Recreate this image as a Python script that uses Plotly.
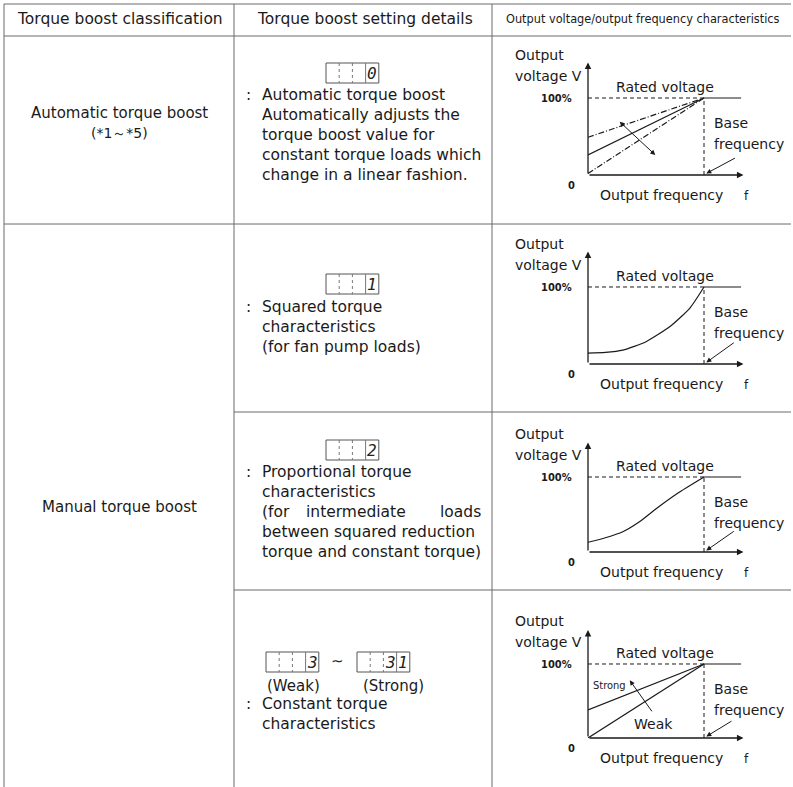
import plotly.graph_objects as go

W, H = 793, 787

# ---------------- data ----------------
HEADERS = ["Torque boost classification", "Torque boost setting details",
           "Output voltage/output frequency characteristics"]
CLASS_AUTO = ["Automatic torque boost", "(*1～*5)"]
CLASS_MANUAL = "Manual torque boost"

CODE_AUTO = ["", "", "", "0"]
CODE_SQUARED = ["", "", "", "1"]
CODE_PROP = ["", "", "", "2"]
CODE_WEAK = ["", "", "", "3"]
CODE_STRONG = ["", "", "3", "1"]

TEXT_AUTO = ["Automatic torque boost", "Automatically adjusts the", "torque boost value for",
             "constant torque loads which", "change in a linear fashion."]
TEXT_SQUARED = ["Squared torque", "characteristics", "(for fan pump loads)"]
TEXT_PROP = ["Proportional torque", "characteristics", None,
             "between squared reduction", "torque and constant torque)"]
TEXT_PROP_JUST = ["(for", "intermediate", "loads"]
TEXT_CONST = ["Constant torque", "characteristics"]
RANGE_LABELS = ["(Weak)", "(Strong)"]

AXIS_Y_LABEL = ["Output", "voltage V"]
AXIS_X_LABEL = "Output frequency"
RATED_LABEL = "Rated voltage"
BASE_LABEL = ["Base", "frequency"]
PCT_LABEL = "100%"

BASE_F = 1.0      # base frequency (normalised)
RATED_V = 1.0     # 100 % rated voltage
F_END = 1.32      # end of the drawn rated-voltage line

# chart 1 : automatic torque boost
AUTO_F = [0.0, 1.0]
AUTO_V_MID = [0.26, 1.0]
AUTO_V_HIGH = [0.49, 1.0]
AUTO_V_LOW = [0.02, 1.0]
# chart 2 : squared torque
SQ_F = [0.0, 0.15, 0.3, 0.5, 0.71, 0.88, 1.0]
SQ_V = [0.14, 0.15, 0.18, 0.29, 0.49, 0.73, 1.0]
# chart 3 : proportional torque
PROP_F = [0.0, 0.15, 0.3, 0.45, 0.59, 0.77, 1.0]
PROP_V = [0.13, 0.19, 0.27, 0.41, 0.58, 0.78, 1.0]
# chart 4 : constant torque
CONST_F = [0.0, 1.0]
CONST_V_WEAK = [0.0, 1.0]
CONST_V_STRONG = [0.38, 1.0]

# ---------------- geometry (pixels) ----------------
ORIGIN_X = 588
UNIT_X = 116
ORIGIN_Y = [175, 364, 552, 738]
RATED_Y = [98, 287, 477, 664]
XMAX = 1.36
YMAX = 1.47

FONT = "DejaVu Sans, Arial, sans-serif"
NARROW = "Liberation Sans Narrow, DejaVu Sans Condensed, Arial Narrow, sans-serif"
INK = "#1a1a1a"
GRID = "#6a6a6a"


def px(x):
    return x / W


def py(y):
    return 1 - y / H


fig = go.Figure()
shapes = []
ann = []


def text(x, y, s, size=15, xanchor="left", family=FONT, color=INK, bold=False):
    ann.append(dict(x=px(x), y=py(y), xref="paper", yref="paper", text=s, showarrow=False,
                    xanchor=xanchor, yanchor="middle",
                    font=dict(family=family, size=size, color=color, weight="bold" if bold else "normal")))


def line(x0, y0, x1, y1, color=GRID, width=1, dash="solid"):
    shapes.append(dict(type="line", xref="paper", yref="paper", x0=px(x0), y0=py(y0),
                       x1=px(x1), y1=py(y1), line=dict(color=color, width=width, dash=dash)))


# ---------------- table grid ----------------
line(4, 4, 791, 4)
line(4, 36, 791, 36)
line(4, 224, 791, 224)
line(234, 412, 791, 412)
line(234, 590, 791, 590)
for xv in (4, 234, 492):
    line(xv, 4, xv, 787)

# header
text(120, 19, HEADERS[0], size=15.5, xanchor="center")
text(365, 19, HEADERS[1], size=15.5, xanchor="center")
text(643, 19, HEADERS[2], size=12.6, xanchor="center", family=NARROW)

# column 1
text(119, 113, CLASS_AUTO[0], xanchor="center")
text(119, 133, CLASS_AUTO[1], xanchor="center", size=14)
text(119, 507, CLASS_MANUAL, xanchor="center")


# digit boxes
def code_box(x0, y0, digits, cw=13.2, h=20):
    x1 = x0 + cw * len(digits)
    shapes.append(dict(type="rect", xref="paper", yref="paper", x0=px(x0), y0=py(y0),
                       x1=px(x1), y1=py(y0 + h), line=dict(color="#555", width=1)))
    for i in range(1, len(digits)):
        line(x0 + cw * i, y0, x0 + cw * i, y0 + h, color="#777", width=1, dash="dot" if i < 3 else "solid")
    for i, d in enumerate(digits):
        if d:
            ann.append(dict(x=px(x0 + cw * (i + 0.5)), y=py(y0 + h / 2 + 0.5), xref="paper", yref="paper",
                            text=d, showarrow=False, xanchor="center", yanchor="middle",
                            font=dict(family="DejaVu Sans Mono, monospace", size=16, color="#222",
                                      style="italic")))


code_box(326, 63, CODE_AUTO)
code_box(326, 274, CODE_SQUARED)
code_box(326, 440, CODE_PROP)
code_box(266, 652, CODE_WEAK)
code_box(357, 652, CODE_STRONG)
text(337, 661, "∼", size=15, xanchor="center")
text(293, 686, RANGE_LABELS[0], xanchor="center")
text(393, 686, RANGE_LABELS[1], xanchor="center")

CX = 260
CS = 15.5


def block(y0, lines, step=20):
    text(249, y0, ":", size=CS, xanchor="center")
    for i, s in enumerate(lines):
        if s is not None:
            text(CX, y0 + i * step, s, size=CS)


block(95, TEXT_AUTO, step=20)
block(307, TEXT_SQUARED, step=20)
block(472, TEXT_PROP, step=20)
text(CX, 512, TEXT_PROP_JUST[0], size=CS)
text(356, 512, TEXT_PROP_JUST[1], size=CS, xanchor="center")
text(483, 512, TEXT_PROP_JUST[2], size=CS, xanchor="right")
block(704, TEXT_CONST, step=20)

# ---------------- charts ----------------
CHART_SERIES = [
    [(AUTO_F, AUTO_V_HIGH, "6px,2px,1px,2px"), (AUTO_F, AUTO_V_MID, "solid"),
     (AUTO_F, AUTO_V_LOW, "6px,2px,1px,2px")],
    [(SQ_F, SQ_V, "solid")],
    [(PROP_F, PROP_V, "solid")],
    [(CONST_F, CONST_V_STRONG, "solid"), (CONST_F, CONST_V_WEAK, "solid")],
]
BASE_ARROW_TAIL = [(1.28, 0.23), (1.27, 0.29), (1.27, 0.29), (1.25, 0.24)]

layout_axes = {}
for k in range(4):
    oy, ry = ORIGIN_Y[k], RATED_Y[k]
    uy = oy - ry
    n = "" if k == 0 else str(k + 1)
    xa, ya = "x" + n, "y" + n
    layout_axes["xaxis" + n] = dict(domain=[px(ORIGIN_X), px(ORIGIN_X + UNIT_X * XMAX)], range=[0, XMAX],
                                    visible=False, anchor=ya, fixedrange=True)
    layout_axes["yaxis" + n] = dict(domain=[py(oy), py(oy - uy * YMAX)], range=[0, YMAX],
                                    visible=False, anchor=xa, fixedrange=True)
    # rated voltage / base frequency guides
    fig.add_trace(go.Scatter(x=[0, BASE_F], y=[RATED_V, RATED_V], mode="lines", xaxis=xa, yaxis=ya,
                             line=dict(color=INK, width=1, dash="4px,3px"), hoverinfo="skip"))
    fig.add_trace(go.Scatter(x=[BASE_F, BASE_F], y=[0, RATED_V], mode="lines", xaxis=xa, yaxis=ya,
                             line=dict(color=INK, width=1, dash="4px,3px"), hoverinfo="skip"))
    fig.add_trace(go.Scatter(x=[BASE_F, F_END], y=[RATED_V, RATED_V], mode="lines", xaxis=xa, yaxis=ya,
                             line=dict(color=INK, width=1.2), hoverinfo="skip"))
    for xs, ys, dash in CHART_SERIES[k]:
        fig.add_trace(go.Scatter(x=xs, y=ys, mode="lines", xaxis=xa, yaxis=ya,
                                 line=dict(color=INK, width=1.2, dash=dash, shape="spline", smoothing=0.6),
                                 hoverinfo="skip"))
    # axes with arrows
    arrow = dict(xref=xa, yref=ya, axref=xa, ayref=ya, showarrow=True, text="",
                 arrowhead=2, arrowsize=1, arrowwidth=1.3, arrowcolor=INK)
    ann.append(dict(arrow, x=0, y=1.46, ax=0, ay=0))
    ann.append(dict(arrow, x=1.34, y=0, ax=0, ay=0))
    # base frequency pointer
    tx, ty = BASE_ARROW_TAIL[k]
    ann.append(dict(arrow, x=1.02, y=0.02, ax=tx, ay=ty, arrowwidth=1, arrowhead=2))
    # labels
    text(513, ry - 43, AXIS_Y_LABEL[0], size=14)
    text(513, ry - 22, AXIS_Y_LABEL[1], size=14)
    text(614, ry - 11, RATED_LABEL, size=14)
    text(574, ry, PCT_LABEL, size=11, xanchor="right", family=NARROW, bold=True)
    text(712, ry + 25, BASE_LABEL[0], size=14)
    text(712, ry + 46, BASE_LABEL[1], size=14)
    text(571, oy + 10, "0", size=11, xanchor="center", family=NARROW, bold=True)
    text(598, oy + 20, AXIS_X_LABEL, size=14)
    text(746, oy + 21, "f", size=12, xanchor="center")

# chart 1 double arrow (boost adjustment)
ann.append(dict(xref="x", yref="y", axref="x", ayref="y", x=0.58, y=0.26, ax=0.26, ay=0.71,
                showarrow=True, text="", arrowhead=2, startarrowhead=2, arrowside="end+start",
                arrowsize=1, arrowwidth=1, arrowcolor=INK))
# chart 4 weak -> strong arrow
ann.append(dict(xref="x4", yref="y4", axref="x4", ayref="y4", x=0.36, y=0.78, ax=0.56, ay=0.34,
                showarrow=True, text="", arrowhead=2, arrowsize=1, arrowwidth=1, arrowcolor=INK))
text(609, 685, "Strong", size=11, xanchor="center", family=NARROW)
text(653, 724, "Weak", size=14, xanchor="center")

fig.update_layout(
    width=W, height=H, margin=dict(l=0, r=0, t=0, b=0),
    paper_bgcolor="white", plot_bgcolor="rgba(0,0,0,0)",
    showlegend=False, shapes=shapes, annotations=ann, **layout_axes,
)

fig.write_html("out.html", config={"displayModeBar": False, "staticPlot": True},
               post_script="document.body.style.margin='0';document.body.style.overflow='hidden';")
